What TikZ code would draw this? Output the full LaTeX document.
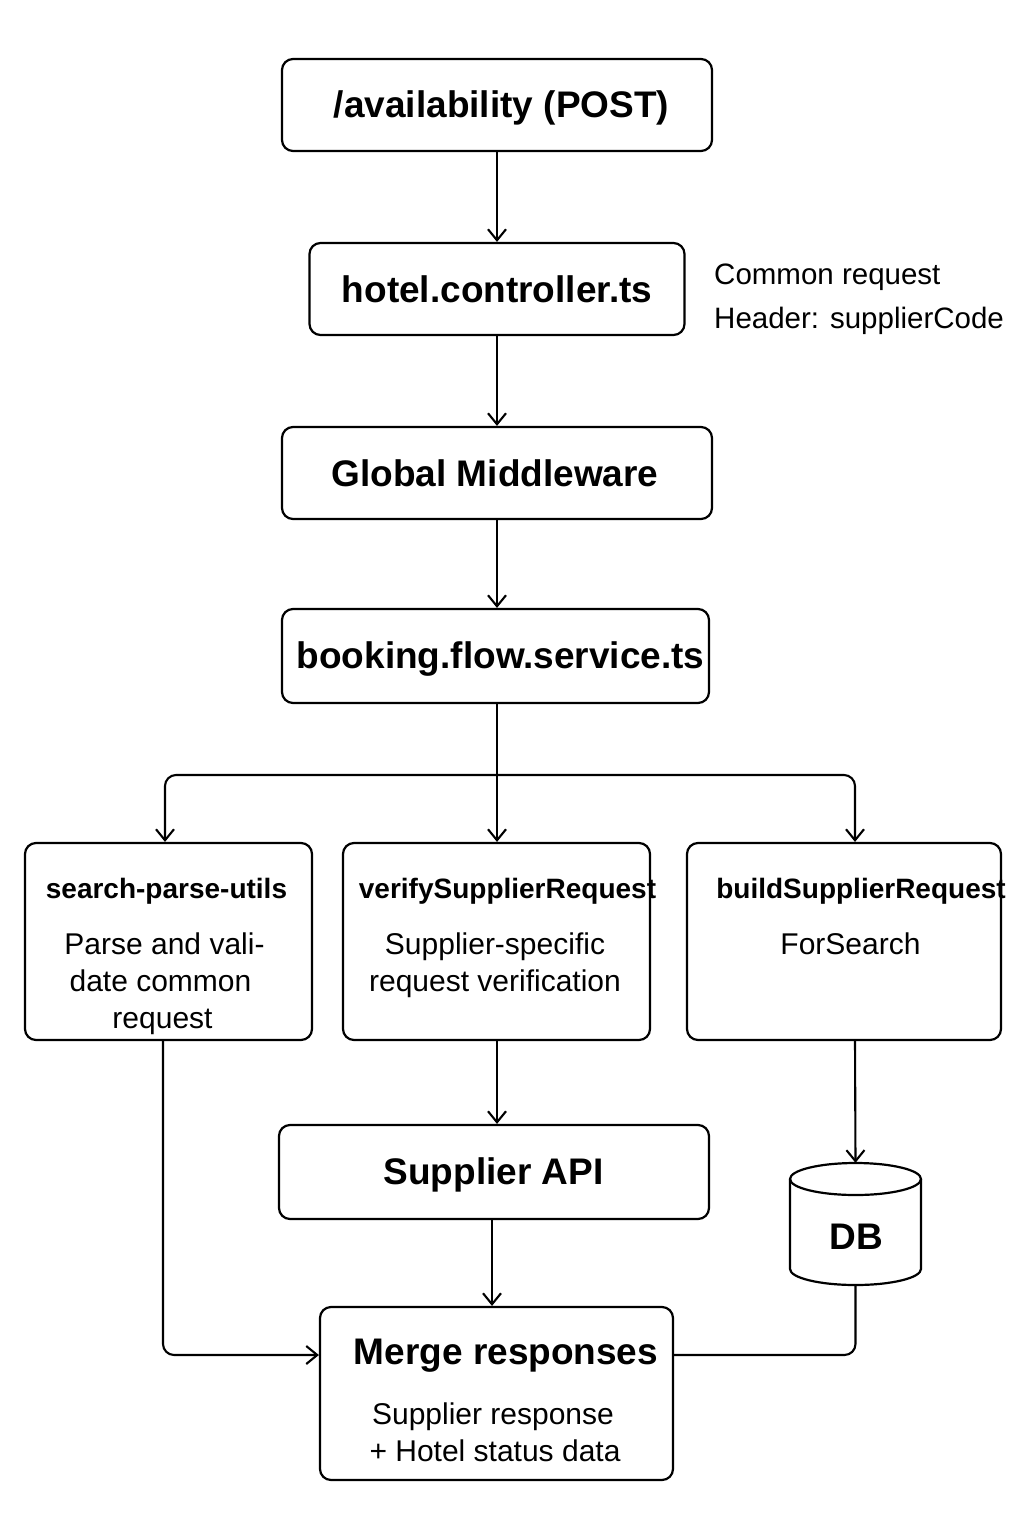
\documentclass[tikz,border=0pt]{standalone}
\usepackage{fontspec}
\setmainfont{Liberation Sans}
\usetikzlibrary{arrows.meta}
\begin{document}
\begin{tikzpicture}[x=1pt,y=-1pt,
  box/.style={draw,line width=2.2pt,rounded corners=11pt,inner sep=0pt},
  ln/.style={line width=2.1pt},
  conn/.style={ln,-{Straight Barb[length=11pt,width=18pt,line width=2.1pt]}},
  big/.style={font=\bfseries\fontsize{37}{43}\selectfont,inner sep=0pt,anchor=base},
  mid/.style={font=\bfseries\fontsize{28}{33}\selectfont,inner sep=0pt,anchor=base},
  body/.style={font=\fontsize{30}{37}\selectfont,inner sep=0pt,anchor=base},
  note/.style={font=\fontsize{29.5}{37}\selectfont,inner sep=0pt,anchor=base west},
]
\fill[white] (0,0) rectangle (1024,1536);
\useasboundingbox (0,0) rectangle (1024,1536);

% boxes
\node[box,minimum width=430pt,minimum height=92pt] (avail) at (497,105) {};
\node[box,minimum width=375pt,minimum height=92pt] (hotel) at (497,289) {};
\node[box,minimum width=430pt,minimum height=92pt] (global) at (497,473) {};
\node[box,minimum width=427pt,minimum height=94pt] (booking) at (495.5,656) {};
\node[box,minimum width=287pt,minimum height=197pt] (search) at (168.5,941.5) {};
\node[box,minimum width=307pt,minimum height=197pt] (verify) at (496.5,941.5) {};
\node[box,minimum width=314pt,minimum height=197pt] (build) at (844,941.5) {};
\node[box,minimum width=430pt,minimum height=94pt] (supp) at (494,1172) {};
\node[box,minimum width=353pt,minimum height=173pt] (merge) at (496.5,1393.5) {};
\node[inner sep=0pt,minimum width=131pt,minimum height=122pt] (db) at (855.5,1224) {};

% cylinder
\draw[line width=2.2pt] (790,1179) -- (790,1269)
  arc[start angle=180,end angle=360,x radius=65.5pt,y radius=16pt]
  -- (921,1179);
\draw[line width=2.2pt] (855.5,1179) ellipse[x radius=65.5pt,y radius=16pt];

% texts
\node[big] (availt) at (501.5,118) {/availability (POST)};
\node[big] (hotelt) at (497,302) {hotel.controller.ts};
\node[big] (globalt) at (495,486) {Global Middleware};
\node[big] (bookingt) at (500.5,668) {booking.flow.service.ts};
\node[mid] (searcht) at (166.5,898) {search-parse-utils};
\node[body] (s1) at (164.5,954) {Parse and vali-};
\node[body] (s2) at (160.5,991) {date common};
\node[body] (s3) at (162.5,1028) {request};
\node[mid] (verifyt) at (507.5,898) {verifySupplierRequest};
\node[body] (v1) at (495,954) {Supplier-specific};
\node[body] (v2) at (495,991) {request verification};
\node[mid] (buildt) at (861,898) {buildSupplierRequest};
\node[body] (b1) at (850.5,954) {ForSearch};
\node[big] (suppt) at (493.5,1184) {Supplier API};
\node[big] (dbt) at (856,1249) {DB};
\node[big] (merget) at (506,1364) {Merge responses};
\node[body] (m1) at (493,1424) {Supplier response};
\node[body] (m2) at (495,1461) {+ Hotel status data};
\node[note] (note1) at (714,284) {Common request};
\node[note] (note2) at (714,328) {Header: supplierCode};

% connectors
\draw[conn] (avail.south) -- (avail.south |- hotel.north);
\draw[conn] (hotel.south) -- (hotel.south |- global.north);
\draw[conn] (global.south) -- (global.south |- booking.north);
\draw[conn] ([xshift=1.5pt]booking.south) -- ([xshift=0.5pt]verify.north);
\coordinate (split) at (497,775);
\draw[conn,rounded corners=11pt] (split) -| ([xshift=-3.5pt]search.north);
\draw[conn,rounded corners=11pt] (split) -| ([xshift=11pt]build.north);
\draw[conn] ([xshift=0.5pt]verify.south) -- ([xshift=0.5pt]verify.south |- supp.north);
\draw[conn] ([xshift=-2pt]supp.south) -- ([xshift=-2pt]supp.south |- merge.north);
\draw[conn,rounded corners=11pt] ([xshift=-5.5pt]search.south) |- ([yshift=38.5pt]merge.west);
\draw[conn] ([xshift=11pt]build.south) -- (db.north);
\draw[ln,rounded corners=11pt] (db.south) |- ([yshift=38.5pt]merge.east);
\end{tikzpicture}
\end{document}
